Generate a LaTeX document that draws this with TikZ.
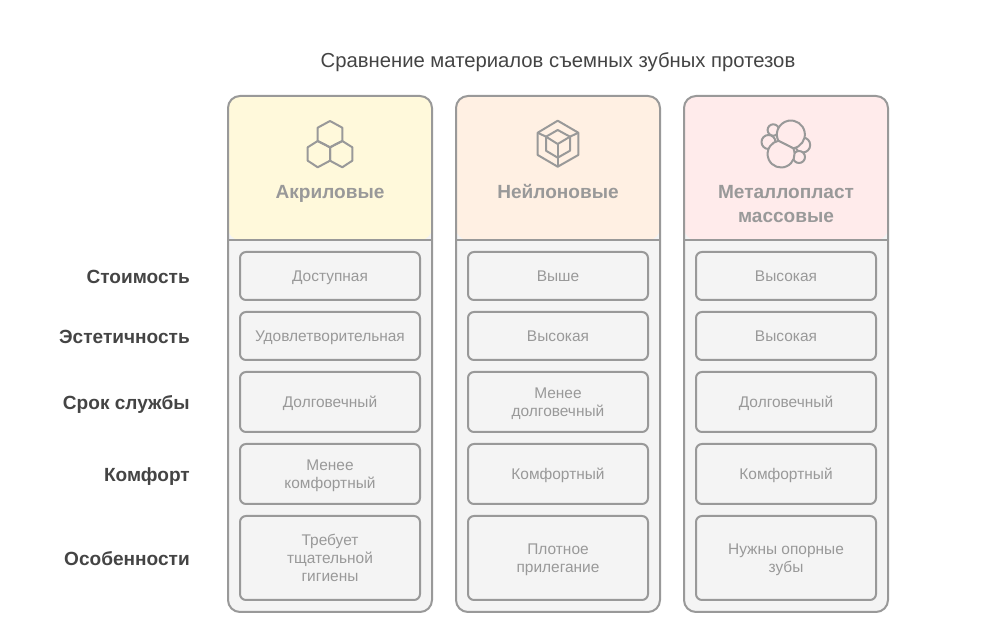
\documentclass[tikz,border=0pt]{standalone}
\usepackage{fontspec}
\setmainfont{Liberation Sans}
\usetikzlibrary{positioning}
\definecolor{edgeGray}{HTML}{999999}
\definecolor{bodyGray}{HTML}{F4F4F4}
\definecolor{darkText}{HTML}{444444}
\definecolor{headYellow}{HTML}{FFF9DB}
\definecolor{headOrange}{HTML}{FFF0E3}
\definecolor{headPink}{HTML}{FFEBEB}
\newcommand{\dropstrut}[1]{\vrule width 0pt height \dimexpr.7\baselineskip+#1\relax depth \dimexpr.3\baselineskip-#1\relax}
\newcommand{\topgap}[1]{\rule{0pt}{#1}}
\tikzset{
	struts/.style = {execute at begin node = \dropstrut{#1}, execute at end node = \dropstrut{#1}}
}
\tikzstyle{column} = [line width = 1.5pt, draw = edgeGray, rounded corners = 9pt]
\tikzstyle{icon} = [line width = 1.5pt, draw = edgeGray, line join = round]
\tikzstyle{cell} = [struts = 1.5pt, line width = 1.5pt, draw = edgeGray, fill = bodyGray, rounded corners = 4.5pt, minimum width = 135pt, text = edgeGray, align = center, font = \fontsize{11.6pt}{13.5pt}\selectfont, inner sep = 0pt]
\tikzstyle{head} = [struts = 1.5pt, text = edgeGray, align = center, inner sep = 0pt, font = \fontsize{14.3pt}{18pt}\selectfont\bfseries]
\tikzstyle{rowname} = [struts = 1.9pt, text = darkText, anchor = east, inner sep = 0pt, font = \fontsize{14.3pt}{18pt}\selectfont\bfseries]
\begin{document}
\begin{tikzpicture}[x = 0.75pt, y = -0.75pt]
	\useasboundingbox (0, 0) rectangle (990, 630);
	% Заголовок
	\node[struts = 2.25pt, text = darkText, inner sep = 0pt, font = \fontsize{15.2pt}{18pt}\selectfont] (title) at (558, 60) {Сравнение материалов съемных зубных протезов};
	% Колонки
	\foreach \xCol/\headCol in {228/headYellow, 456/headOrange, 684/headPink} {
		\fill[bodyGray, rounded corners = 9pt] (\xCol, 96) rectangle ++(204, 516);
		\fill[\headCol, rounded corners = 9pt] (\xCol, 240) |- (\xCol+204, 96) -- (\xCol+204, 240) -- cycle;
		\draw[column] (\xCol, 96) rectangle ++(204, 516);
		\draw[line width = 1.5pt, draw = edgeGray] (\xCol, 240) -- ++(204, 0);
	}
	% Значок: соты
	\draw[icon] (330, 121) -- (342.3, 127.7) -- (342.3, 141) -- (330, 147.3) -- (317.7, 141) -- (317.7, 127.7) -- cycle;
	\draw[icon] (317.7, 141) -- (330, 147.3) -- (330, 160.7) -- (317.7, 167.3) -- (307.7, 160.7) -- (307.7, 147.3) -- cycle;
	\draw[icon] (342.3, 141) -- (352.3, 147.3) -- (352.3, 160.7) -- (342.3, 167.3) -- (330, 160.7) -- (330, 147.3) -- cycle;
	% Значок: куб
	\draw[icon] (557.7, 120.7) -- (578.3, 132.7) -- (578.3, 155) -- (557.7, 166.7) -- (537.7, 155) -- (537.7, 132.7) -- cycle;
	\draw[icon] (557.7, 130) -- (570, 136.7) -- (570, 150.7) -- (557.7, 157.7) -- (546, 150.7) -- (546, 136.7) -- cycle;
	\draw[icon] (537.7, 132.7) -- (546, 136.7) -- (557.7, 144) -- (570, 136.7) -- (578.3, 132.7);
	\draw[icon] (557.7, 144) -- (557.7, 166.7);
	% Значок: частицы
	\draw[icon, fill = headPink] (773.3, 130) circle (5.7);
	\draw[icon, fill = headPink] (768.5, 142) circle (7);
	\draw[icon, fill = headPink] (802.7, 145) circle (7.5);
	\draw[icon, fill = headPink] (799, 157) circle (6);
	\draw[icon, fill = headPink] (793.3, 148.3) arc (80:-208:14) -- cycle;
	\draw[icon, fill = headPink] (793.3, 148.3) arc (-25:258.5:13.5) -- cycle;
	% Названия материалов
	\node[head] (acrylic) at (330, 192) {Акриловые};
	\node[head] (nylon) at (558, 192) {Нейлоновые};
	\node[head] (metal) at (786, 204) {\topgap{13.4pt}Металлопласт\\массовые};
	% Названия строк
	\node[rowname] (cost) at (190, 276) {Стоимость};
	\node[rowname] (looks) at (190, 336) {Эстетичность};
	\node[rowname] (life) at (190, 402) {Срок службы};
	\node[rowname] (comfort) at (190, 474) {Комфорт};
	\node[rowname] (notes) at (190, 558) {Особенности};
	% Акриловые
	\node[cell, minimum height = 36pt] (a1) at (330, 276) {Доступная};
	\node[cell, minimum height = 36pt] (a2) at (330, 336) {Удовлетворительная};
	\node[cell, minimum height = 45pt] (a3) at (330, 402) {Долговечный};
	\node[cell, minimum height = 45pt] (a4) at (330, 474) {\topgap{11.4pt}Менее\\комфортный};
	\node[cell, minimum height = 63pt] (a5) at (330, 558) {\topgap{11.4pt}Требует\\тщательной\\гигиены};
	% Нейлоновые
	\node[cell, minimum height = 36pt] (n1) at (558, 276) {Выше};
	\node[cell, minimum height = 36pt] (n2) at (558, 336) {Высокая};
	\node[cell, minimum height = 45pt] (n3) at (558, 402) {\topgap{11.4pt}Менее\\долговечный};
	\node[cell, minimum height = 45pt] (n4) at (558, 474) {Комфортный};
	\node[cell, minimum height = 63pt] (n5) at (558, 558) {\topgap{11.4pt}Плотное\\прилегание};
	% Металлопласт
	\node[cell, minimum height = 36pt] (m1) at (786, 276) {Высокая};
	\node[cell, minimum height = 36pt] (m2) at (786, 336) {Высокая};
	\node[cell, minimum height = 45pt] (m3) at (786, 402) {Долговечный};
	\node[cell, minimum height = 45pt] (m4) at (786, 474) {Комфортный};
	\node[cell, minimum height = 63pt] (m5) at (786, 558) {\topgap{11.4pt}Нужны опорные\\зубы};
\end{tikzpicture}
\end{document}
